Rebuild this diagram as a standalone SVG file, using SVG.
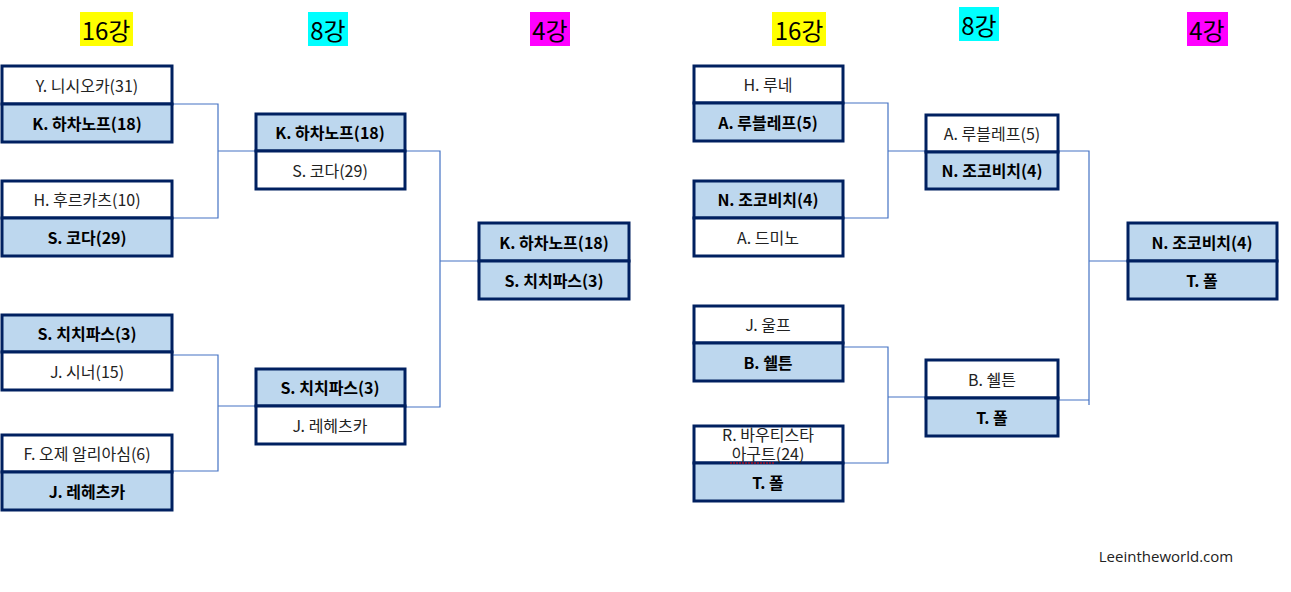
<svg xmlns="http://www.w3.org/2000/svg" width="1291" height="592" viewBox="0 0 1291 592">
<style>
.b{stroke:#002060;stroke-width:3}
.w{fill:#fff}
.f{fill:#bdd7ee}
.t{font-family:"Noto Sans CJK KR","Noto Sans",sans-serif;font-size:16px;fill:#222;text-anchor:middle;dominant-baseline:central}
.s{font-weight:bold;fill:#000}
.h{font-family:"Noto Sans CJK KR","Noto Sans",sans-serif;font-size:24px;fill:#000;text-anchor:middle;dominant-baseline:central}
.c{stroke:#4472c4;stroke-width:1.2;fill:none}
</style>
<rect width="1291" height="592" fill="#fff"/>
<g id="headers">
<rect x="80" y="12" width="53" height="34" fill="#ffff00"/><text class="h" x="106" y="29">16강</text>
<rect x="308" y="12" width="40" height="34" fill="#00ffff"/><text class="h" x="328" y="29">8강</text>
<rect x="530" y="12" width="40" height="34" fill="#ff00ff"/><text class="h" x="550" y="29">4강</text>
<rect x="772" y="12" width="54" height="34" fill="#ffff00"/><text class="h" x="799" y="29">16강</text>
<rect x="959" y="7" width="40" height="34" fill="#00ffff"/><text class="h" x="979" y="24">8강</text>
<rect x="1187" y="12" width="41" height="34" fill="#ff00ff"/><text class="h" x="1207" y="29">4강</text>
</g>
<g id="connectors">
<path class="c" d="M172 104H218V218H172M218 151H256"/>
<path class="c" d="M172 355H218V471H172M218 406H256"/>
<path class="c" d="M405 151H440V407H405M440 261H479"/>
<path class="c" d="M843 103H888V218H843M888 151H926"/>
<path class="c" d="M843 347H888V463H843M888 397H926"/>
<path class="c" d="M1058 151H1089V405M1058 400H1089M1089 261H1128"/>
</g>
<g id="n1"><rect class="b w" x="2" y="66" width="170" height="38"/><rect class="b f" x="2" y="104" width="170" height="38"/><text class="t" x="87" y="85">Y. 니시오카(31)</text><text class="t s" x="87" y="123">K. 하차노프(18)</text></g>
<g id="n2"><rect class="b w" x="2" y="181" width="170" height="37"/><rect class="b f" x="2" y="218" width="170" height="38"/><text class="t" x="87" y="199">H. 후르카츠(10)</text><text class="t s" x="87" y="237">S. 코다(29)</text></g>
<g id="n3"><rect class="b f" x="2" y="315" width="170" height="37"/><rect class="b w" x="2" y="352" width="170" height="38"/><text class="t s" x="87" y="333">S. 치치파스(3)</text><text class="t" x="87" y="371">J. 시너(15)</text></g>
<g id="n4"><rect class="b w" x="2" y="435" width="170" height="37"/><rect class="b f" x="2" y="472" width="170" height="38"/><text class="t" x="87" y="453">F. 오제 알리아심(6)</text><text class="t s" x="87" y="491">J. 레헤츠카</text></g>
<g id="n5"><rect class="b f" x="256" y="114" width="149" height="37"/><rect class="b w" x="256" y="151" width="149" height="38"/><text class="t s" x="330" y="132">K. 하차노프(18)</text><text class="t" x="330" y="170">S. 코다(29)</text></g>
<g id="n6"><rect class="b f" x="256" y="369" width="149" height="37"/><rect class="b w" x="256" y="406" width="149" height="38"/><text class="t s" x="330" y="387">S. 치치파스(3)</text><text class="t" x="330" y="425">J. 레헤츠카</text></g>
<g id="n7"><rect class="b f" x="479" y="223" width="150" height="38"/><rect class="b f" x="479" y="261" width="150" height="38"/><text class="t s" x="554" y="242">K. 하차노프(18)</text><text class="t s" x="554" y="280">S. 치치파스(3)</text></g>
<g id="n8"><rect class="b w" x="694" y="66" width="149" height="37"/><rect class="b f" x="694" y="103" width="149" height="38"/><text class="t" x="768" y="84">H. 루네</text><text class="t s" x="768" y="122">A. 루블레프(5)</text></g>
<g id="n9"><rect class="b f" x="694" y="181" width="149" height="37"/><rect class="b w" x="694" y="218" width="149" height="38"/><text class="t s" x="768" y="199">N. 조코비치(4)</text><text class="t" x="768" y="237">A. 드미노</text></g>
<g id="n10"><rect class="b w" x="694" y="306" width="149" height="37"/><rect class="b f" x="694" y="343" width="149" height="38"/><text class="t" x="768" y="324">J. 울프</text><text class="t s" x="768" y="362">B. 쉘튼</text></g>
<g id="n11"><rect class="b w" x="694" y="426" width="149" height="37"/><rect class="b f" x="694" y="463" width="149" height="38"/><text class="t" x="768" y="434" font-size="14">R. 바우티스타</text><text class="t" x="768" y="453" font-size="14">아구트(24)</text><path d="M730 463H774" stroke="#e00" stroke-width="1.2" stroke-dasharray="2 1"/><text class="t s" x="768" y="482">T. 폴</text></g>
<g id="n12"><rect class="b w" x="926" y="115" width="132" height="37"/><rect class="b f" x="926" y="152" width="132" height="37"/><text class="t" x="992" y="133">A. 루블레프(5)</text><text class="t s" x="992" y="170">N. 조코비치(4)</text></g>
<g id="n13"><rect class="b w" x="926" y="360" width="132" height="38"/><rect class="b f" x="926" y="398" width="132" height="38"/><text class="t" x="992" y="379">B. 쉘튼</text><text class="t s" x="992" y="417">T. 폴</text></g>
<g id="n14"><rect class="b f" x="1128" y="223" width="149" height="38"/><rect class="b f" x="1128" y="261" width="149" height="38"/><text class="t s" x="1202" y="242">N. 조코비치(4)</text><text class="t s" x="1202" y="280">T. 폴</text></g>
<text x="1166" y="556" font-family="'Open Sans','Noto Sans',sans-serif" font-size="15" fill="#222" text-anchor="middle" dominant-baseline="central">Leeintheworld.com</text>
</svg>
